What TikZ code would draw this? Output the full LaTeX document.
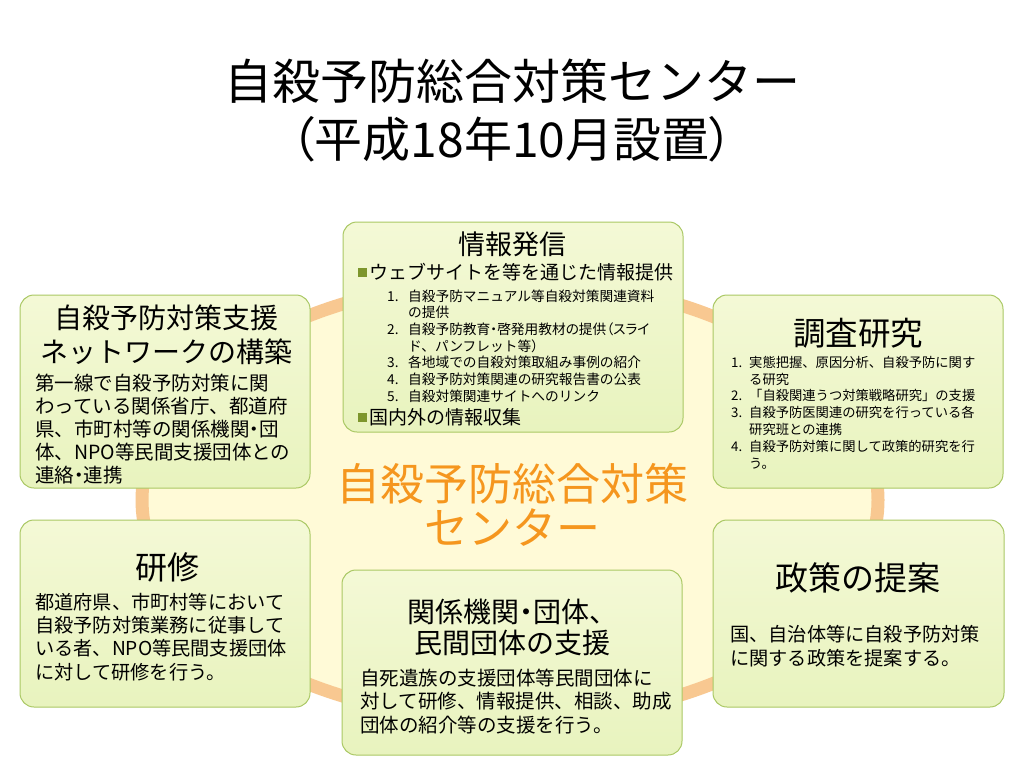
\documentclass[tikz,border=0pt]{standalone}
\usepackage{fontspec}
\setmainfont{Noto Sans CJK JP}
\newfontfamily\propfont{Noto Sans CJK JP}[RawFeature=+palt]
\usetikzlibrary{calc}

\definecolor{ringorange}{RGB}{248,200,145}
\definecolor{ringfill}{RGB}{255,250,215}
\definecolor{boxtop}{RGB}{244,249,214}
\definecolor{boxbottom}{RGB}{232,243,190}
\definecolor{boxline}{RGB}{170,200,100}
\definecolor{bulletgreen}{RGB}{125,150,45}
\definecolor{centerorange}{RGB}{245,150,30}

\newcommand{\fs}[2]{\fontsize{#1}{#2}\selectfont}
\newcommand{\sqbullet}{\textcolor{bulletgreen}{\rule[0.12em]{9pt}{9pt}}\hspace{2pt}}
\newcommand{\numitem}[2]{\makebox[#1][l]{#2}}
\newcommand{\middot}{{\propfont ・}}

\tikzset{
	panel/.style={draw=boxline, line width=1pt, rounded corners=14pt, top color=boxtop, bottom color=boxbottom, inner sep=0pt},
	heading/.style={inner sep=0pt, align=center},
	bodytext/.style={inner sep=0pt, align=left, anchor=west}
}

\begin{document}
\begin{tikzpicture}[x=1pt, y=-1pt]
				\fill[white] (0,0) rectangle (1024,768);
				\useasboundingbox (0,0) rectangle (1024,768);
				
				\coordinate (hub) at (510,500);
				\draw[line width=13pt, draw=ringorange, fill=ringfill] (hub) ellipse [x radius=368pt, y radius=220pt];
				
				\node[heading, font=\fs{48}{58}] (title) at (512,111) {自殺予防総合対策センター\\{\propfont（}平成18年10月設置{\propfont）}};
				
				\node[panel, minimum width=340pt, minimum height=210pt] (info) at (513,327) {};
				\node[panel, minimum width=290pt, minimum height=193pt] (network) at (165,391.5) {};
				\node[panel, minimum width=290pt, minimum height=193pt] (survey) at (858,391.5) {};
				\node[panel, minimum width=290pt, minimum height=187pt] (training) at (165,613.5) {};
				\node[panel, minimum width=291pt, minimum height=187pt] (policy) at (858.5,613.5) {};
				\node[panel, minimum width=340pt, minimum height=185pt] (support) at (512,662.5) {};
				
				\node[heading, font=\fs{44}{44}, text=centerorange] (centre) at (512,505) {自殺予防総合対策\\センター};
				
				\node[heading, font=\fs{27}{30}] (infohead) at (512,244) {情報発信};
				\node[bodytext, font=\fs{19}{23}] (infobul1) at (358,272) {\sqbullet ウェブサイトを等を通じた情報提供};
				\node[bodytext, font=\fs{13.7}{16.7}] (infolist) at (387,346) {\numitem{21pt}{1.}自殺予防マニュアル等自殺対策関連資料\\\hspace*{21pt}の提供\\\numitem{21pt}{2.}{\propfont 自殺予防教育・啓発用教材の提供（スライ}\\\hspace*{21pt}ド、パンフレット等）\\\numitem{21pt}{3.}各地域での自殺対策取組み事例の紹介\\\numitem{21pt}{4.}自殺予防対策関連の研究報告書の公表\\\numitem{21pt}{5.}自殺対策関連サイトへのリンク};
				\node[bodytext, font=\fs{19}{23}] (infobul2) at (358,417) {\sqbullet 国内外の情報収集};
				
				\node[heading, font=\fs{28}{34}] (networkhead) at (166,335) {自殺予防対策支援\\ネットワークの構築};
				\node[bodytext, font=\fs{19.5}{23.2}] (networkbody) at (35,429) {第一線で自殺予防対策に関\\わっている関係省庁、都道府\\県、市町村等の関係機関\middot 団\\体、NPO等民間支援団体との\\連絡\middot 連携};
				
				\node[heading, font=\fs{32}{36}] (traininghead) at (167,567) {研修};
				\node[bodytext, font=\fs{19.2}{23.3}] (trainingbody) at (35,637) {都道府県、市町村等において\\自殺予防対策業務に従事して\\いる者、NPO等民間支援団体\\に対して研修を行う。};
				
				\node[heading, font=\fs{32.5}{36}] (surveyhead) at (858,333) {調査研究};
				\node[bodytext, font=\fs{13.3}{16.8}] (surveylist) at (731,412.5) {\numitem{18pt}{1.}実態把握、原因分析、自殺予防に関す\\\hspace*{18pt}る研究\\\numitem{18pt}{2.}「自殺関連うつ対策戦略研究」の支援\\\numitem{18pt}{3.}自殺予防医関連の研究を行っている各\\\hspace*{18pt}研究班との連携\\\numitem{18pt}{4.}自殺予防対策に関して政策的研究を行\\\hspace*{18pt}う。};
				
				\node[heading, font=\fs{33}{36}] (policyhead) at (858,578) {政策の提案};
				\node[bodytext, font=\fs{19.2}{24}] (policybody) at (730,646) {国、自治体等に自殺予防対策\\に関する政策を提案する。};
				
				\node[heading, font=\fs{28}{31}] (supporthead) at (512,627.5) {関係機関\middot 団体、\\民間団体の支援};
				\node[bodytext, font=\fs{19.5}{23.5}] (supportbody) at (360,701.5) {自死遺族の支援団体等民間団体に\\対して研修、情報提供、相談、助成\\団体の紹介等の支援を行う。};
			\end{tikzpicture}
\end{document}
